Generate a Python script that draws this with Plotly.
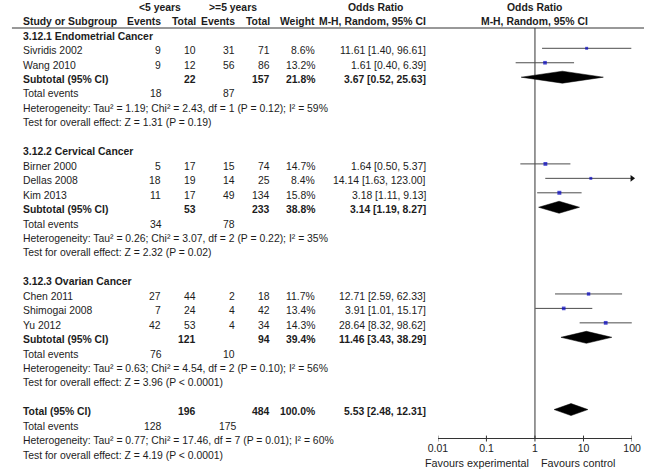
import math
import plotly.graph_objects as go

W, H = 653, 471

# ---------------- data ----------------
studies = ["Sivridis 2002", "Wang 2010", "Birner 2000", "Dellas 2008", "Kim 2013",
           "Chen 2011", "Shimogai 2008", "Yu 2012"]
events_lt5 = [9, 9, 5, 18, 11, 27, 7, 42]
total_lt5 = [10, 12, 17, 19, 17, 44, 24, 53]
events_ge5 = [31, 56, 15, 14, 49, 2, 4, 4]
total_ge5 = [71, 86, 74, 25, 134, 18, 42, 34]
weights = [8.6, 13.2, 14.7, 8.4, 15.8, 11.7, 13.4, 14.3]
odds = [11.61, 1.61, 1.64, 14.14, 3.18, 12.71, 3.91, 28.64]
ci_low = [1.40, 0.40, 0.50, 1.63, 1.11, 2.59, 1.01, 8.32]
ci_high = [96.61, 6.39, 5.37, 123.00, 9.13, 62.33, 15.17, 98.62]

group_names = ["3.12.1 Endometrial Cancer", "3.12.2 Cervical Cancer", "3.12.3 Ovarian Cancer"]
group_sizes = [2, 3, 3]
sub_total_lt5 = [22, 53, 121]
sub_total_ge5 = [157, 233, 94]
sub_weight = [21.8, 38.8, 39.4]
sub_or = [3.67, 3.14, 11.46]
sub_low = [0.52, 1.19, 3.43]
sub_high = [25.63, 8.27, 38.29]
sub_events_lt5 = [18, 34, 76]
sub_events_ge5 = [87, 78, 10]
sub_het = ["Heterogeneity: Tau² = 1.19; Chi² = 2.43, df = 1 (P = 0.12); I² = 59%",
           "Heterogeneity: Tau² = 0.26; Chi² = 3.07, df = 2 (P = 0.22); I² = 35%",
           "Heterogeneity: Tau² = 0.63; Chi² = 4.54, df = 2 (P = 0.10); I² = 56%"]
sub_test = ["Test for overall effect: Z = 1.31 (P = 0.19)",
            "Test for overall effect: Z = 2.32 (P = 0.02)",
            "Test for overall effect: Z = 3.96 (P < 0.0001)"]

overall_total_lt5 = 196
overall_total_ge5 = 484
overall_weight = 100.0
overall_or, overall_low, overall_high = 5.53, 2.48, 12.31
overall_events_lt5 = 128
overall_events_ge5 = 175
overall_het = "Heterogeneity: Tau² = 0.77; Chi² = 17.46, df = 7 (P = 0.01); I² = 60%"
overall_test = "Test for overall effect: Z = 4.19 (P < 0.0001)"

tick_vals = [0.01, 0.1, 1, 10, 100]
tick_text = ["0.01", "0.1", "1", "10", "100"]
left_label = "Favours experimental"
right_label = "Favours control"

# ---------------- layout constants ----------------
FONT = "Liberation Sans, Arial, sans-serif"
FS = 10.4
TXT = "#1c1c1c"
X_LEFT = 12
X_EV1, X_TOT1, X_EV2, X_TOT2, X_W, X_CI = 157, 193, 233, 269, 315, 430
X_OR_HEAD = 376
Y0, DY = 4.95, 14.45
TEXT_DY = 2.3
AXIS_Y = 438.3
HEAD_LINE_Y = 28
XMIN_PX, XMAX_PX = 440.7, 640.7
CI_COLOR = "#4d4d4d"
SQ_COLOR = "#0000c0"
DIA_HALF = 6


def ry(r):
    return Y0 + r * DY


annotations = []


def txt(x, y, s, anchor="left", bold=False, size=FS):
    annotations.append(dict(
        x=x / W, y=1 - y / H, xref="paper", yref="paper",
        text=f"<b>{s}</b>" if bold else s, showarrow=False,
        xanchor=anchor, yanchor="middle", borderpad=0,
        font=dict(family=FONT, size=size, color=TXT)))


def fmt_ci(o, lo, hi):
    return f"{o:.2f} [{lo:.2f}, {hi:.2f}]"


fig = go.Figure()

# headers
txt((133 + 176) / 2, ry(0) + TEXT_DY, "<5 years", "center", True)
txt((203 + 257) / 2, ry(0) + TEXT_DY, ">=5 years", "center", True)
txt(X_OR_HEAD, ry(0) + TEXT_DY, "Odds Ratio", "center", True)
txt(540.5, ry(0) + TEXT_DY, "Odds Ratio", "center", True)
r1 = ry(1) + TEXT_DY
txt(X_LEFT, r1, "Study or Subgroup", "left", True)
txt(X_EV1, r1, "Events", "right", True)
txt(X_TOT1, r1, "Total", "right", True)
txt(X_EV2, r1, "Events", "right", True)
txt(X_TOT2, r1, "Total", "right", True)
txt(X_W, r1, "Weight", "right", True)
txt(X_CI, r1, "M-H, Random, 95% CI", "right", True)
txt(540.5, r1, "M-H, Random, 95% CI", "center", True)

row = 2
si = 0
study_rows = []
sub_rows = []
for g, name in enumerate(group_names):
    txt(X_LEFT, ry(row) + TEXT_DY, name, "left", True)
    row += 1
    for k in range(group_sizes[g]):
        y = ry(row) + TEXT_DY
        txt(X_LEFT, y, studies[si])
        txt(X_EV1, y, str(events_lt5[si]), "right")
        txt(X_TOT1, y, str(total_lt5[si]), "right")
        txt(X_EV2, y, str(events_ge5[si]), "right")
        txt(X_TOT2, y, str(total_ge5[si]), "right")
        txt(X_W, y, f"{weights[si]:.1f}%", "right")
        txt(X_CI, y, fmt_ci(odds[si], ci_low[si], ci_high[si]), "right")
        study_rows.append(ry(row))
        si += 1
        row += 1
    y = ry(row) + TEXT_DY
    txt(X_LEFT, y, "Subtotal (95% CI)", "left", True)
    txt(X_TOT1, y, str(sub_total_lt5[g]), "right", True)
    txt(X_TOT2, y, str(sub_total_ge5[g]), "right", True)
    txt(X_W, y, f"{sub_weight[g]:.1f}%", "right", True)
    txt(X_CI, y, fmt_ci(sub_or[g], sub_low[g], sub_high[g]), "right", True)
    sub_rows.append(ry(row))
    row += 1
    y = ry(row) + TEXT_DY
    txt(X_LEFT, y, "Total events")
    txt(X_EV1 + 1, y, str(sub_events_lt5[g]), "right")
    txt(X_EV2, y, str(sub_events_ge5[g]), "right")
    row += 1
    txt(X_LEFT, ry(row) + TEXT_DY, sub_het[g])
    row += 1
    txt(X_LEFT, ry(row) + TEXT_DY, sub_test[g])
    row += 2

# overall
y = ry(row) + TEXT_DY
txt(X_LEFT, y, "Total (95% CI)", "left", True)
txt(X_TOT1, y, str(overall_total_lt5), "right", True)
txt(X_TOT2, y, str(overall_total_ge5), "right", True)
txt(X_W, y, f"{overall_weight:.1f}%", "right", True)
txt(X_CI, y, fmt_ci(overall_or, overall_low, overall_high), "right", True)
overall_row = ry(row)
row += 1
y = ry(row) + TEXT_DY
txt(X_LEFT, y, "Total events")
txt(X_EV1 + 1, y, str(overall_events_lt5), "right")
txt(X_EV2 + 2, y, str(overall_events_ge5), "right")
row += 1
txt(X_LEFT, ry(row) + TEXT_DY, overall_het)
row += 1
txt(X_LEFT, ry(row) + TEXT_DY, overall_test)

# ---------------- forest traces ----------------
# line of no effect
fig.add_trace(go.Scatter(x=[1, 1], y=[HEAD_LINE_Y, AXIS_Y], mode="lines",
                         line=dict(color="#333333", width=1), hoverinfo="skip"))

# CI lines
for i in range(len(studies)):
    fig.add_trace(go.Scatter(x=[ci_low[i], ci_high[i]], y=[study_rows[i]] * 2, mode="lines",
                             line=dict(color=CI_COLOR, width=1), hoverinfo="skip"))
    if ci_high[i] > tick_vals[-1]:
        fig.add_trace(go.Scatter(x=[tick_vals[-1]], y=[study_rows[i]], mode="markers",
                                 marker=dict(symbol="triangle-right", size=6, color="#111111"),
                                 cliponaxis=False, hoverinfo="skip"))

# study squares
fig.add_trace(go.Scatter(x=odds, y=study_rows, mode="markers",
                         marker=dict(symbol="square", size=[math.sqrt(w) for w in weights],
                                     color=SQ_COLOR, line=dict(width=0)),
                         hoverinfo="skip"))

# diamonds
dia_list = list(zip(sub_or, sub_low, sub_high, sub_rows)) + [(overall_or, overall_low, overall_high, overall_row)]
for o, lo, hi, yy in dia_list:
    fig.add_trace(go.Scatter(x=[lo, o, hi, o, lo], y=[yy, yy - DIA_HALF, yy, yy + DIA_HALF, yy],
                             mode="lines", fill="toself", fillcolor="black",
                             line=dict(color="black", width=0.5), hoverinfo="skip"))

# axis tick marks
tx, ty = [], []
for v in tick_vals:
    tx += [v, v, None]
    ty += [AXIS_Y - 2.7, AXIS_Y + 3.2, None]
fig.add_trace(go.Scatter(x=tx, y=ty, mode="lines", line=dict(color="#333333", width=1),
                         cliponaxis=False, hoverinfo="skip"))

# favours labels
annotations.append(dict(x=0, y=1 - 463.3 / H, xref="x", yref="paper", text=left_label,
                        showarrow=False, xanchor="right", yanchor="middle", xshift=-5,
                        borderpad=0, font=dict(family=FONT, size=10.8, color=TXT)))
annotations.append(dict(x=0, y=1 - 463.3 / H, xref="x", yref="paper", text=right_label,
                        showarrow=False, xanchor="left", yanchor="middle", xshift=5,
                        borderpad=0, font=dict(family=FONT, size=10.8, color=TXT)))

shapes = [dict(type="line", xref="paper", yref="paper", x0=2 / W, x1=1,
               y0=1 - HEAD_LINE_Y / H, y1=1 - HEAD_LINE_Y / H,
               line=dict(color="#333333", width=1))]

fig.update_layout(
    width=W, height=H, margin=dict(l=0, r=0, t=0, b=0),
    paper_bgcolor="white", plot_bgcolor="rgba(0,0,0,0)",
    showlegend=False,
    xaxis=dict(type="log", range=[-2, 2], domain=[XMIN_PX / W, XMAX_PX / W],
               anchor="free", position=1 - AXIS_Y / H,
               showline=True, linecolor="#333333", linewidth=1,
               showgrid=False, zeroline=False, ticks="",
               tickvals=tick_vals, ticktext=tick_text,
               tickfont=dict(family=FONT, size=10.5, color=TXT)),
    yaxis=dict(range=[H, 0], domain=[0, 1], visible=False, showgrid=False, zeroline=False),
    annotations=annotations, shapes=shapes,
)

fig.write_html("out.html", config={"displayModeBar": False},
               post_script="document.body.style.margin='0px';document.body.style.overflow='hidden';")
